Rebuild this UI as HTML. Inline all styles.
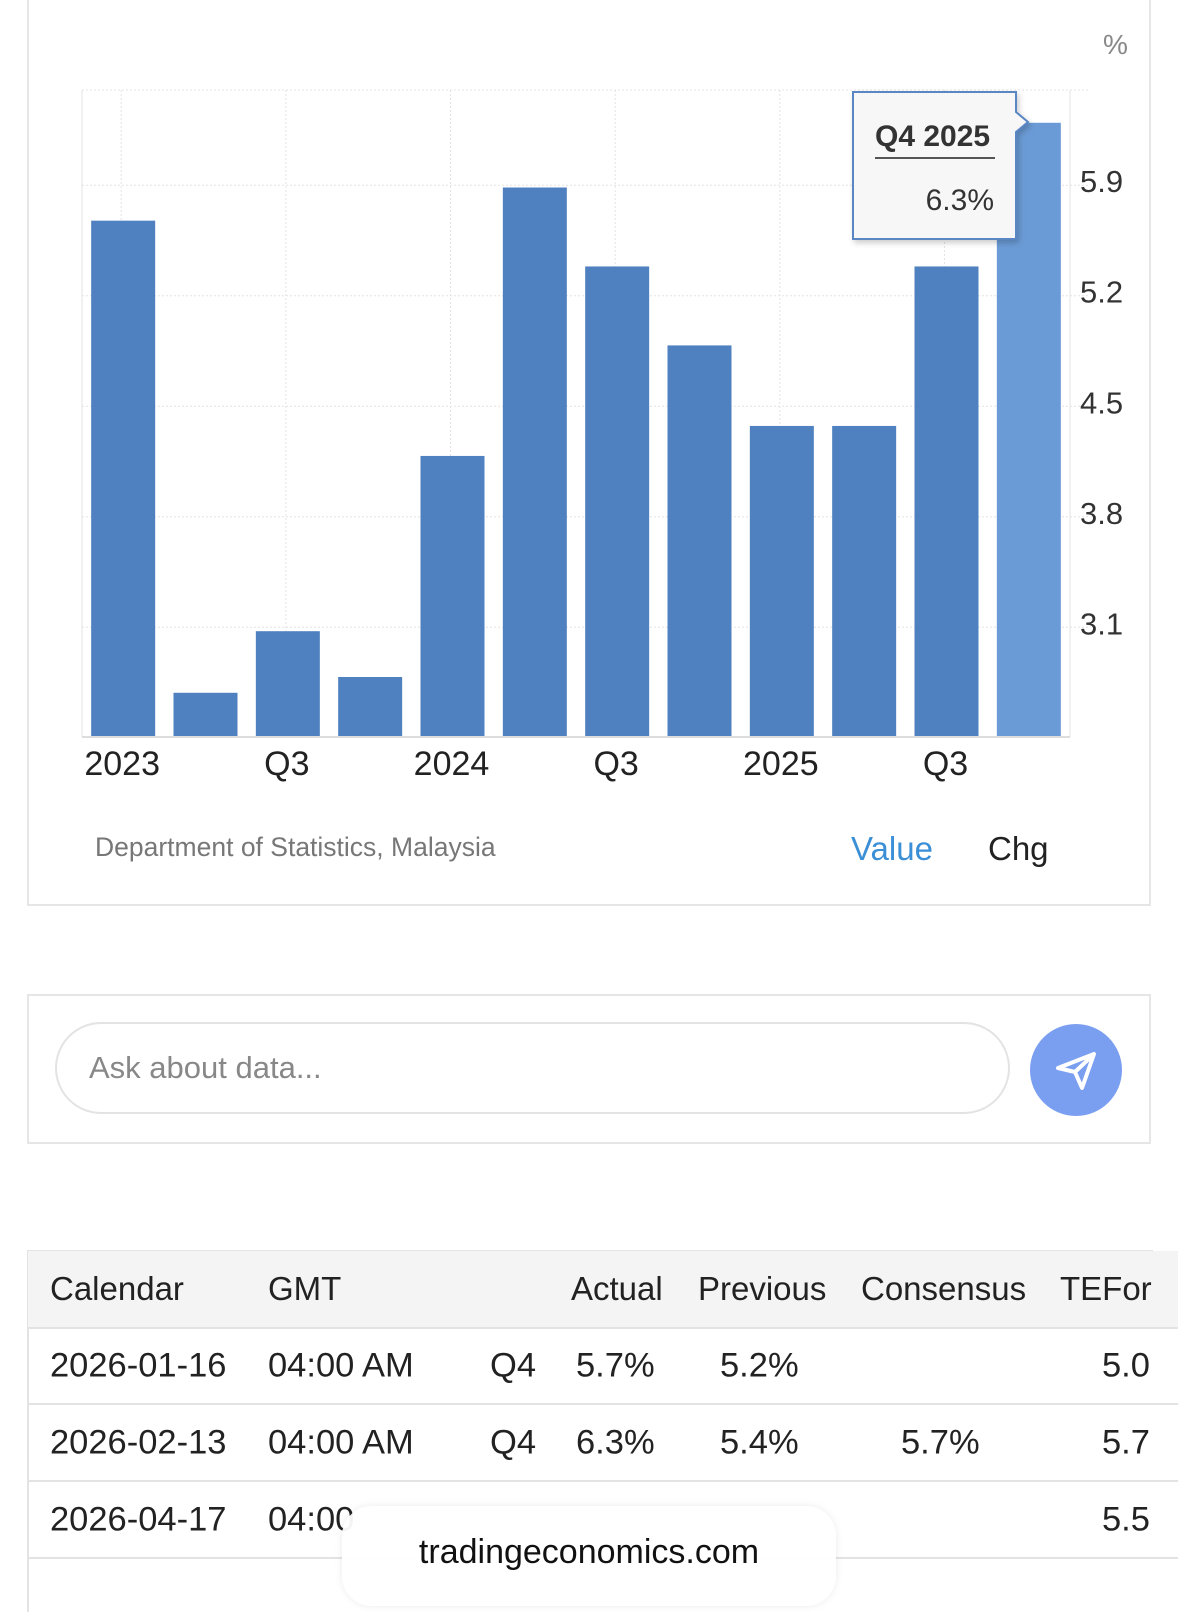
<!DOCTYPE html>
<html><head><meta charset="utf-8">
<style>
body{margin:0;width:1200px;height:1599px;background:#fff;font-family:"Liberation Sans",sans-serif;position:relative;overflow:hidden;color:#222}
.abs{position:absolute}
.card{position:absolute;border:2px solid #e6e6e6;background:#fff;box-sizing:border-box}
.row{position:absolute;left:28px;width:1150px;border-bottom:2px solid #e3e3e3;font-size:34.5px}
.row span{position:absolute;top:50%;transform:translateY(-50%);white-space:nowrap}
</style></head><body>
<div class="card" style="left:27px;top:-4px;width:1124px;height:910px"></div>
<svg class="abs" style="left:0;top:0" width="1200" height="900" id="chart"></svg>
<div class="abs" style="left:95px;top:832px;font-size:26.5px;color:#777">Department of Statistics, Malaysia</div>
<div class="abs" style="left:851px;top:830px;font-size:33px;color:#3a8fd6">Value</div>
<div class="abs" style="left:988px;top:830px;font-size:33px;color:#222">Chg</div>

<div class="card" style="left:27px;top:994px;width:1124px;height:150px"></div>
<div class="abs" style="left:55px;top:1022px;width:955px;height:92px;border:2px solid #e3e3e3;border-radius:46px;box-sizing:border-box;font-size:31px;color:#888;line-height:88px;padding-left:32px">Ask about data...</div>
<div class="abs" style="left:1030px;top:1024px;width:92px;height:92px;border-radius:50%;background:#7b9ff0">
<svg width="92" height="92" viewBox="0 0 92 92"><path d="M28 44 L64 30 L52 64 L45 48 Z M45 48 L64 30" fill="none" stroke="#fff" stroke-width="4" stroke-linejoin="round"/></svg></div>

<div class="abs" style="left:27px;top:1250px;width:1124px;height:360px;border-top:2px solid #e3e3e3;border-left:2px solid #e3e3e3"></div>
<div class="row" style="top:1251px;height:76px;background:#f4f4f4;font-size:33px">
<span style="left:22px">Calendar</span><span style="left:240px">GMT</span><span style="left:543px">Actual</span><span style="left:670px">Previous</span><span style="left:833px">Consensus</span><span style="left:1032px">TEFor</span></div>
<div class="row" style="top:1328px;height:75px">
<span style="left:22px">2026-01-16</span><span style="left:240px">04:00 AM</span><span style="left:462px">Q4</span><span style="left:548px">5.7%</span><span style="left:692px">5.2%</span><span style="left:1074px">5.0</span></div>
<div class="row" style="top:1405px;height:75px">
<span style="left:22px">2026-02-13</span><span style="left:240px">04:00 AM</span><span style="left:462px">Q4</span><span style="left:548px">6.3%</span><span style="left:692px">5.4%</span><span style="left:873px">5.7%</span><span style="left:1074px">5.7</span></div>
<div class="row" style="top:1482px;height:75px">
<span style="left:22px">2026-04-17</span><span style="left:240px">04:00</span><span style="left:1074px">5.5</span></div>
<div class="abs" style="left:342px;top:1506px;width:494px;height:100px;border-radius:30px;background:rgba(255,255,255,0.95);box-shadow:0 0 8px rgba(0,0,0,0.08);text-align:center;font-size:34px;line-height:92px;color:#111">tradingeconomics.com</div>

<script>
const categories=["2023 Q1","2023 Q2","2023 Q3","2023 Q4","2024 Q1","2024 Q2","2024 Q3","2024 Q4","2025 Q1","2025 Q2","2025 Q3","2025 Q4"];
const values=[5.65,2.66,3.05,2.76,4.16,5.86,5.36,4.86,4.35,4.35,5.36,6.27];
const yTicks=[3.1,3.8,4.5,5.2,5.9];
const xLabels=[[0,"2023"],[2,"Q3"],[4,"2024"],[6,"Q3"],[8,"2025"],[10,"Q3"]];
const NS="http://www.w3.org/2000/svg";
const svg=document.getElementById('chart');
const X0=82,X1=1070,Y0=737,YMIN=2.38,PPU=157.9;
const step=(X1-X0)/categories.length;
function y(v){return Y0-(v-YMIN)*PPU;}
function xc(i){return X0+step*(i+0.5);}
function mk(t,a){const e=document.createElementNS(NS,t);for(const k in a)e.setAttribute(k,a[k]);svg.appendChild(e);return e;}
let e=mk('line',{x1:X0,y1:90,x2:1090,y2:90,stroke:'#e6e6e6','stroke-dasharray':'2,2'});

yTicks.forEach(t=>{
 let g=mk('line',{x1:X0,x2:1090,y1:y(t)+4,y2:y(t)+4,stroke:'#e3e3e3','stroke-dasharray':'2,2'});
 
 let l=mk('text',{x:1080,y:y(t)+11,'font-size':31,fill:'#333','font-family':'Liberation Sans'});
 l.textContent=t.toFixed(1);
 
});
xLabels.forEach(([i,s])=>{
 let g=mk('line',{x1:xc(i)-2,x2:xc(i)-2,y1:90,y2:Y0,stroke:'#e3e3e3','stroke-dasharray':'2,2'});
 
 let l=mk('text',{x:xc(i)-1,y:775,'font-size':34,fill:'#222','text-anchor':'middle','font-family':'Liberation Sans'});
 l.textContent=s;
 
});
let vl=mk('line',{x1:X0,x2:X0,y1:90,y2:Y0,stroke:'#e3e3e3'});

let vr=mk('line',{x1:X1,x2:X1,y1:90,y2:Y0,stroke:'#e3e3e3'});

values.forEach((v,i)=>{
 let b=mk('rect',{x:xc(i)-32,y:y(v),width:64,height:Y0-y(v),fill:i==values.length-1?'#6b9bd6':'#4f80bf'});
 
 
});
let bl=mk('line',{x1:X0,x2:X1,y1:Y0,y2:Y0,stroke:'#ddd','stroke-width':2});

let u=mk('text',{x:1103,y:54,'font-size':28,fill:'#888','font-family':'Liberation Sans'});u.textContent='%';

let tg=document.createElementNS(NS,'g');svg.appendChild(tg);


tg.innerHTML='<path d="M853 92 H1016 V112 L1028 122 L1016 132 V239 H853 Z" fill="#f7f7f7" stroke="#5a86c4" stroke-width="2" style="filter:drop-shadow(2px 3px 3px rgba(0,0,0,0.2))"/>'+
'<text x="875" y="146" font-size="30" font-weight="bold" fill="#333" font-family="Liberation Sans">Q4 2025</text>'+
'<line x1="875" x2="995" y1="158" y2="158" stroke="#555" stroke-width="2"/>'+
'<text x="994" y="210" font-size="30" fill="#333" text-anchor="end" font-family="Liberation Sans">'+values[values.length-1].toFixed(1)+'%</text>';
</script>
</body></html>
